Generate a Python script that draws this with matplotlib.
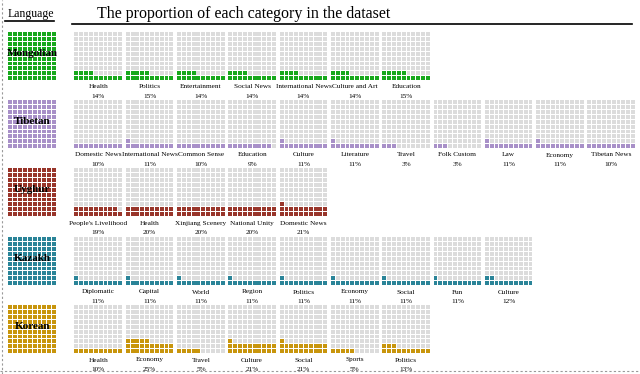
import numpy as np
import matplotlib
matplotlib.use('Agg')
import matplotlib.pyplot as plt
from matplotlib.patches import Rectangle
from matplotlib.collections import PatchCollection
from matplotlib.lines import Line2D

plt.rcParams['font.family'] = 'Liberation Serif'

# 数据
languages = ['Mongolian', 'Tibetan', 'Uyghur', 'Kazakh', 'Korean']
lang_colors = ['#17a81c', '#a890c8', '#98352a', '#2a8498', '#c8950c']

mongolian_cats = ['Health', 'Politics', 'Entertainment', 'Social News',
                  'International News', 'Culture and Art', 'Education']
mongolian_pct = [14, 15, 14, 14, 14, 14, 15]

tibetan_cats = ['Domestic News', 'International News', 'Common Sense', 'Education',
                'Culture', 'Literature', 'Travel', 'Folk Custom', 'Law',
                'Economy', 'Tibetan News']
tibetan_pct = [10, 11, 10, 9, 11, 11, 3, 3, 11, 11, 10]

uyghur_cats = ["People's Livelihood", 'Health', 'Xinjiang Scenery',
               'National Unity', 'Domestic News']
uyghur_pct = [19, 20, 20, 20, 21]

kazakh_cats = ['Diplomatic', 'Capital', 'World', 'Region', 'Politics',
               'Economy', 'Social', 'Fun', 'Culture']
kazakh_pct = [11, 11, 11, 11, 11, 11, 11, 11, 12]

korean_cats = ['Health', 'Economy', 'Travel', 'Culture', 'Social', 'Sports', 'Politics']
korean_pct = [10, 25, 5, 21, 21, 5, 13]

all_cats = [mongolian_cats, tibetan_cats, uyghur_cats, kazakh_cats, korean_cats]
all_pct = [mongolian_pct, tibetan_pct, uyghur_pct, kazakh_pct, korean_pct]

GRAY = '#dcdcdc'
W, H = 640, 374

fig = plt.figure(figsize=(6.4, 3.74), dpi=100)


def px_axes(x, y, w, h):
    # 像素坐标 -> figure 坐标
    return fig.add_axes([x / W, 1 - (y + h) / H, w / W, h / H])


def waffle(ax, n, color):
    # 10x10 方格, 从左下角逐行填充
    rects, cols = [], []
    gap = 0.1
    for k in range(100):
        r, c = k // 10, k % 10
        rects.append(Rectangle((c + gap, r + gap), 1 - 2 * gap, 1 - 2 * gap))
        cols.append(color if k < n else GRAY)
    ax.add_collection(PatchCollection(rects, facecolors=cols, edgecolors='none'))
    ax.set_xlim(0, 10)
    ax.set_ylim(0, 10)
    ax.axis('off')


row_tops = [32, 100, 168, 237, 305]
box = 48.5
pitch = 51.3

for r, lang in enumerate(languages):
    y0 = row_tops[r]
    color = lang_colors[r]
    # 左侧语言方块
    ax = px_axes(8, y0, box, box)
    waffle(ax, 100, color)
    ax.text(5, 5.6, lang, ha='center', va='center', fontsize=8, fontweight='bold')

    for i, (cat, p) in enumerate(zip(all_cats[r], all_pct[r])):
        x0 = 74 + i * pitch
        ax = px_axes(x0, y0, box, box)
        waffle(ax, p, color)
        cx = (x0 + box / 2) / W
        fig.text(cx, 1 - (y0 + box + 6.5) / H, cat, ha='center', va='center', fontsize=5.2)
        fig.text(cx, 1 - (y0 + box + 16) / H, f'{p}%', ha='center', va='center', fontsize=5.2)

# 标题和下划线
fig.text(8 / W, 1 - 14 / H, 'Language', ha='left', va='center', fontsize=8.5)
fig.text(97 / W, 1 - 14 / H, 'The proportion of each category in the dataset',
         ha='left', va='center', fontsize=11.5)
fig.add_artist(Line2D([5 / W, 54 / W], [1 - 21 / H] * 2, color='black', lw=1.2))
fig.add_artist(Line2D([72 / W, 632 / W], [1 - 24 / H] * 2, color='black', lw=1.2))

# 虚线边框
fig.add_artist(Line2D([2 / W, 2 / W], [0, 1], color='#999999', lw=0.8, ls=(0, (2, 2))))
fig.add_artist(Line2D([0, 1], [3 / H, 3 / H], color='#999999', lw=0.8, ls=(0, (2, 2))))

fig.savefig('out.png', dpi=100)
